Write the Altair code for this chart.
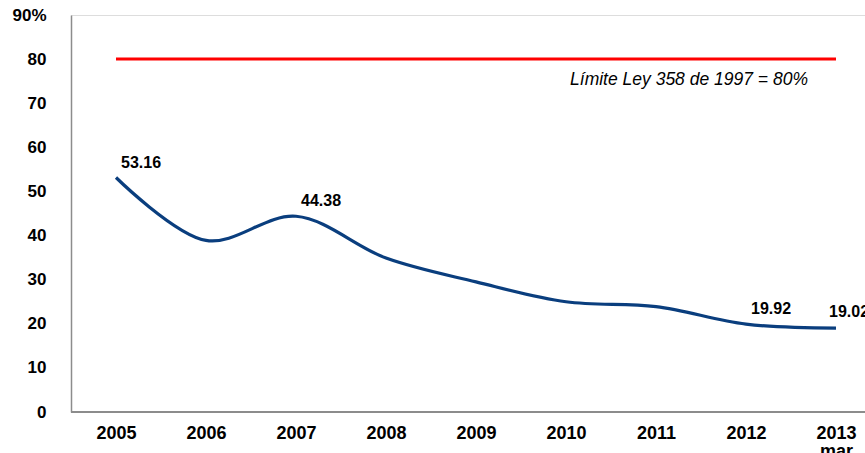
import altair as alt
import pandas as pd

years = ["2005", "2006", "2007", "2008", "2009", "2010", "2011", "2012", "2013"]
values = [53.16, 38.9, 44.38, 34.9, 29.5, 25.0, 23.9, 19.92, 19.02]
labeled = {"2005": "53.16", "2007": "44.38", "2012": "19.92", "2013": "19.02"}
limit_value = 80
limit_text = "Límite Ley 358 de 1997 = 80%"
y_ticks = [0, 10, 20, 30, 40, 50, 60, 70, 80, 90]

df = pd.DataFrame({"year": years, "value": values})
df["label"] = [labeled.get(y, "") for y in years]
limit_df = pd.DataFrame({"year": [years[0], years[-1]], "value": [limit_value, limit_value]})
note_df = pd.DataFrame({"year": ["2011"], "value": [75.3], "text": [limit_text]})

FONT = "Liberation Sans"
W, H = 794, 397

x = alt.X(
    "year:N",
    sort=years,
    scale=alt.Scale(type="point", range=[45, 765], padding=0),
    axis=alt.Axis(
        title=None,
        labelAngle=0,
        labelFont=FONT,
        labelFontSize=18,
        labelFontWeight="bold",
        labelColor="#000000",
        labelPadding=12,
        labelLineHeight=18,
        labelExpr="datum.value == '2013' ? ['2013', 'mar'] : datum.label",
        ticks=False,
        domain=False,
        grid=False,
    ),
)
y = alt.Y(
    "value:Q",
    scale=alt.Scale(domain=[0, 90], nice=False),
    axis=alt.Axis(
        title=None,
        values=y_ticks,
        labelFont=FONT,
        labelFontSize=17,
        labelFontWeight="bold",
        labelColor="#000000",
        labelPadding=25,
        labelExpr="datum.value == 90 ? '90%' : datum.label",
        ticks=False,
        domainColor="#8c8c8c",
        domainWidth=1.5,
        grid=False,
    ),
)

base_axis = alt.Chart(df).mark_rule(color="#8c8c8c", strokeWidth=2).encode(
    x=alt.value(0), x2=alt.value(W), y=alt.value(H)
)

line = alt.Chart(df).mark_line(
    interpolate="catmull-rom", color="#0a3e7e", strokeWidth=3.2
).encode(x=x, y=y)

limit = alt.Chart(limit_df).mark_line(color="#ff0000", strokeWidth=3).encode(x=x, y=y)

lab_a = alt.Chart(df).transform_filter(
    "datum.year != '2013' && datum.label != ''"
).mark_text(
    font=FONT, fontSize=16, fontWeight="bold", color="#000000", dx=25, dy=-15
).encode(x=x, y=y, text="label:N")

lab_b = alt.Chart(df).transform_filter("datum.year == '2013'").mark_text(
    font=FONT, fontSize=16, fontWeight="bold", color="#000000", dx=13, dy=-16
).encode(x=x, y=y, text="label:N")

note = alt.Chart(note_df).mark_text(
    font=FONT, fontSize=17.5, fontStyle="italic", color="#000000", dx=33
).encode(x=x, y=y, text="text:N")

chart = (
    alt.layer(base_axis, limit, line, lab_a, lab_b, note)
    .properties(
        width=W,
        height=H,
        autosize=alt.AutoSizeParams(type="none"),
        padding={"left": 71, "top": 15, "right": 0, "bottom": 41},
    )
    .configure_view(stroke=None)
    .configure(background="#ffffff")
)

chart.save("out.html", embed_options={"renderer": "svg", "actions": False})
